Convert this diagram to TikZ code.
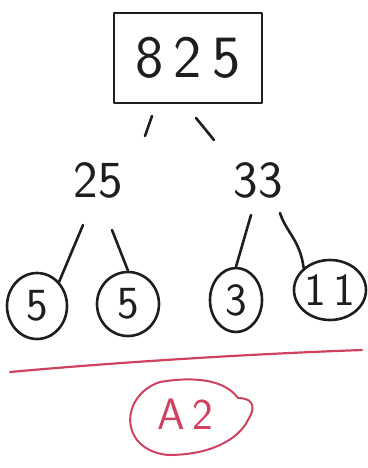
\documentclass[tikz,border=0pt]{standalone}
\usepackage{fontspec}
\setmainfont{DejaVu Sans}
\usetikzlibrary{shapes.geometric}
\definecolor{ink}{HTML}{1E1E1E}
\definecolor{redink}{HTML}{D0405F}
\begin{document}
\begin{tikzpicture}[x=1pt,y=-1pt,
  pen/.style={draw=ink,line width=2.6pt,line cap=round,line join=round},
  num/.style={text=ink,font=\fontsize{#1}{#1}\selectfont\sffamily},
  leaf/.style={draw=ink,line width=2.6pt,ellipse,inner sep=0pt,num=46}]
  \useasboundingbox (0,0) rectangle (367,468);
  % root value in a box
  \node[num=60,pen,minimum width=148pt,minimum height=90pt,inner sep=0pt] (root) at (188,58) {8\,2\,5};
  % first split
  \node[num=52] (f25) at (98,180) {25};
  \node[num=52] (f33) at (258,180) {33};
  % prime leaves
  \node[leaf,minimum width=60pt,minimum height=66pt] (p1) at (37,306) {5};
  \node[leaf,minimum width=62pt,minimum height=64pt] (p2) at (128,304) {5};
  \node[leaf,minimum width=52pt,minimum height=64pt] (p3) at (236,300) {3};
  \node[leaf,minimum width=72pt,minimum height=60pt] (p4) at (330,290) {1\,1};
  % branches
  \coordinate (a1) at (152,116); \coordinate (a2) at (145,136);
  \coordinate (b1) at (196,118); \coordinate (b2) at (214,140);
  \coordinate (c1) at (83,225); \coordinate (c2) at (112,230);
  \coordinate (d1) at (251,215); \coordinate (d2) at (280,213);
  \draw[pen] (a1) -- (a2);
  \draw[pen] (b1) -- (b2);
  \draw[pen] (c1) -- (p1.north east);
  \draw[pen] (c2) -- (p2.north);
  \draw[pen] (d1) -- (p3.north);
  \draw[pen] (d2) .. controls (286,232) and (300,240) .. (p4.north west);
  % answer line and label
  \draw[draw=redink,line width=2.2pt,line cap=round] (10,372) .. controls (120,362) and (250,354) .. (362,350);
  \node[text=redink,font=\fontsize{44}{44}\selectfont\sffamily] (ans) at (185,414) {A\,2};
  \draw[draw=redink,line width=2pt,line cap=round]
    (160,382) .. controls (120,395) and (118,450) .. (168,455)
    .. controls (210,455) and (238,440) .. (248,420)
    .. controls (258,404) and (250,398) .. (238,398)
    .. controls (225,380) and (195,376) .. (160,382);
\end{tikzpicture}
\end{document}
